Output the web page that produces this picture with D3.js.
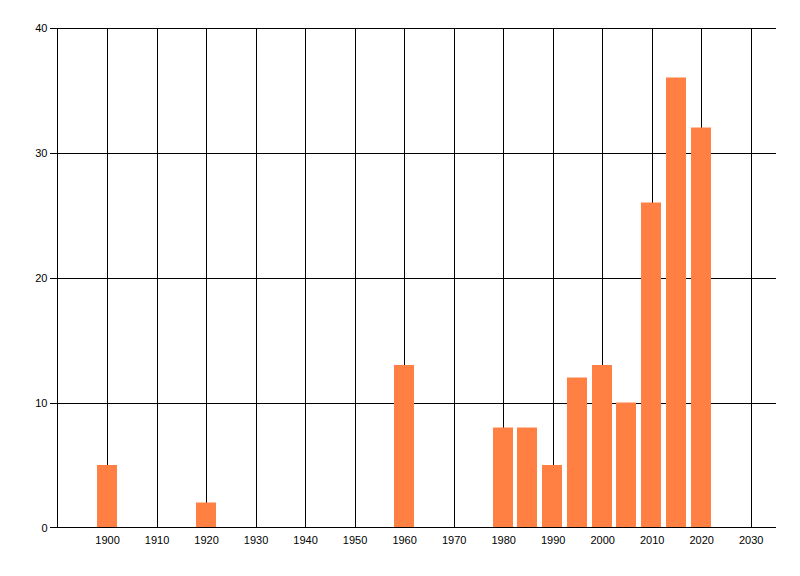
<!DOCTYPE html>
<html>
<head>
<meta charset="utf-8">
<script src="https://cdn.jsdelivr.net/npm/d3@7"></script>
<style>
body { margin: 0; background: #fff; }
text { font-family: "Liberation Sans", Arial, sans-serif; font-size: 11px; fill: #000; }
</style>
</head>
<body>
<div id="container"></div>
<script>
var width = 800, height = 576;

var years = [1900, 1920, 1960, 1980, 1985, 1990, 1995, 2000, 2005, 2010, 2015, 2020];
var counts = [5, 2, 13, 8, 8, 5, 12, 13, 10, 26, 36, 32];
var xTicks = [1900, 1910, 1920, 1930, 1940, 1950, 1960, 1970, 1980, 1990, 2000, 2010, 2020, 2030];
var yTicks = [0, 10, 20, 30, 40];

var data = years.map(function(y, i){ return {year: y, count: counts[i]}; });

var xScale = d3.scaleLinear().domain([1890, 2035]).range([57.5, 775.5]);
var yScale = d3.scaleLinear().domain([0, 40]).range([527.5, 27.5]);

function visualize() {
	var svg = d3.select('#container')
		.append('svg')
		.attr('width', width)
		.attr('height', height);

	// vertical grid
	svg.append('g')
		.attr('transform', 'translate(0,' + yScale(0) + ')')
		.call(d3.axisBottom(xScale).tickValues(xTicks).tickSize(-500).tickSizeOuter(0).tickPadding(9).tickFormat(d3.format('d')))
		.call(function(g){
			g.select('.domain').remove();
			g.selectAll('line').attr('stroke', '#000').attr('shape-rendering', 'crispEdges');
		});

	// horizontal grid + y labels
	svg.append('g')
		.attr('transform', 'translate(' + xScale(1890) + ',0)')
		.call(d3.axisLeft(yScale).tickValues(yTicks).tickSize(8).tickSizeOuter(0).tickPadding(2))
		.call(function(g){
			g.select('.domain').remove();
			g.selectAll('line').attr('stroke', '#000').attr('shape-rendering', 'crispEdges')
				.attr('x2', function(d){ return d === 0 ? -8 : xScale(2035) - xScale(1890); })
				.attr('x1', -8);
		});

	// bars
	svg.append('g').selectAll('rect').data(data).enter()
		.append('rect')
		.attr('x', function(d){ return Math.round(xScale(d.year) - 10.5); })
		.attr('width', 20)
		.attr('y', function(d){ return yScale(d.count); })
		.attr('height', function(d){ return yScale(0) - yScale(d.count); })
		.attr('fill', '#ff8042');

	// axis lines
	svg.append('line')
		.attr('x1', xScale(1890)).attr('x2', xScale(1890))
		.attr('y1', yScale(40)).attr('y2', yScale(0))
		.attr('stroke', '#000').attr('shape-rendering', 'crispEdges');
	svg.append('line')
		.attr('x1', xScale(1890) - 8).attr('x2', xScale(2035))
		.attr('y1', yScale(0)).attr('y2', yScale(0))
		.attr('stroke', '#000').attr('shape-rendering', 'crispEdges');
}

window.onload = visualize;
</script>
</body>
</html>
